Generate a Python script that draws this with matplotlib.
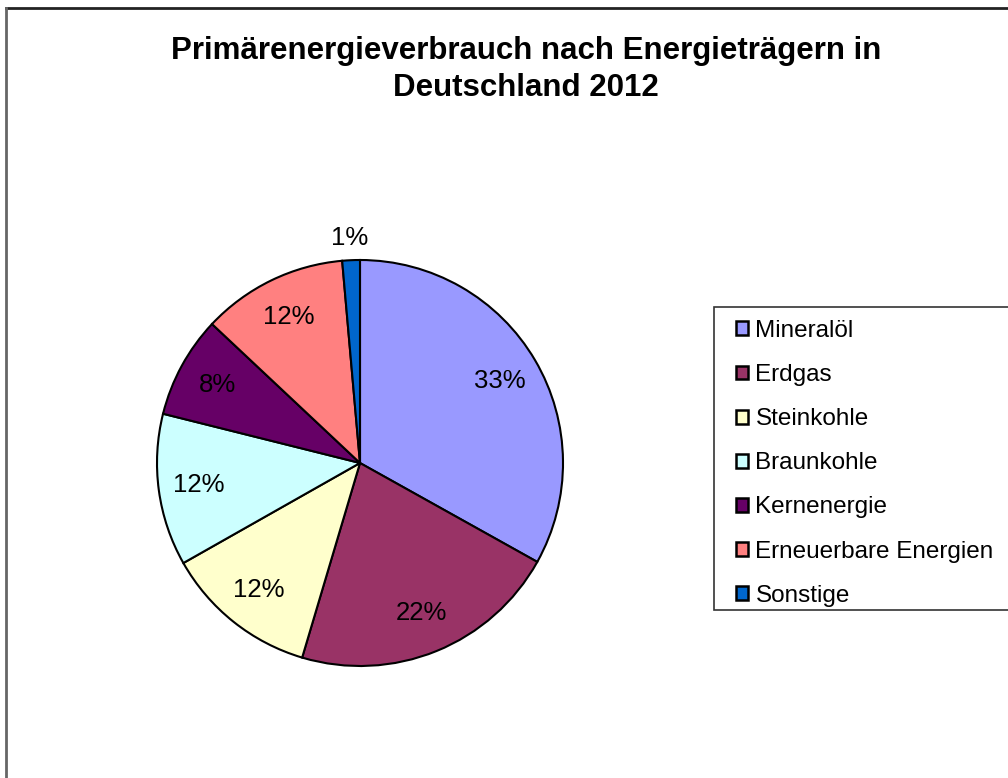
import matplotlib.pyplot as plt
import numpy as np
from matplotlib.lines import Line2D
from matplotlib.patches import Rectangle

plt.rcParams['font.family'] = ['Liberation Sans', 'DejaVu Sans']

# Primärenergieverbrauch 2012, Anteile in %
labels = ["Mineralöl", "Erdgas", "Steinkohle", "Braunkohle",
          "Kernenergie", "Erneuerbare Energien", "Sonstige"]
shares = [33.1, 21.5, 12.2, 12.1, 8.1, 11.6, 1.4]
colors = ["#9999FF", "#993366", "#FFFFCC", "#CCFFFF",
          "#660066", "#FF8080", "#0066CC"]

W, H = 1008, 778
fig = plt.figure(figsize=(W / 100, H / 100), dpi=100)

# outer chart frame (only top and left edge visible)
fig.add_artist(Line2D([6 / W, 1], [1 - 8 / H, 1 - 8 / H], color="#222222", lw=2,
                      transform=fig.transFigure))
fig.add_artist(Line2D([6 / W, 6 / W], [1 - 8 / H, 0], color="#666666", lw=2,
                      transform=fig.transFigure))

cx, cy, r = 360, 463, 203
ax = fig.add_axes([(cx - r) / W, (H - cy - r) / H, 2 * r / W, 2 * r / H])
wedges, texts, autotexts = ax.pie(
    shares, colors=colors, startangle=90, counterclock=False,
    autopct=lambda p: f"{p:.0f}%", pctdistance=0.8,
    wedgeprops=dict(edgecolor="black", linewidth=1.5),
    textprops=dict(fontsize=18.5, color="black"))
ax.set_xlim(-1, 1)
ax.set_ylim(-1, 1)
ax.set_aspect("auto")

# small slice label goes outside
w = wedges[-1]
ang = np.deg2rad((w.theta1 + w.theta2) / 2)
autotexts[-1].set_position((1.11 * np.cos(ang), 1.11 * np.sin(ang)))

fig.text(526 / W, 1 - 51 / H, "Primärenergieverbrauch nach Energieträgern in",
         ha="center", va="center", fontsize=22.5, fontweight="bold")
fig.text(526 / W, 1 - 88 / H, "Deutschland 2012",
         ha="center", va="center", fontsize=22.5, fontweight="bold")

# legend box runs past the right edge
fig.add_artist(Rectangle((714 / W, 1 - 610 / H), 320 / W, 303 / H,
                         transform=fig.transFigure, facecolor="white",
                         edgecolor="#333333", lw=1.2))
leg = fig.legend(wedges, labels, loc="upper left",
                 bbox_to_anchor=(736 / W, 1 - 320 / H),
                 fontsize=17.5, frameon=False,
                 handlelength=0.5, handleheight=0.5, handletextpad=0.3,
                 labelspacing=0.91, borderpad=0, borderaxespad=0)
for h in leg.legend_handles:
    h.set_linewidth(1.8)

fig.savefig("out.png", dpi=100)
